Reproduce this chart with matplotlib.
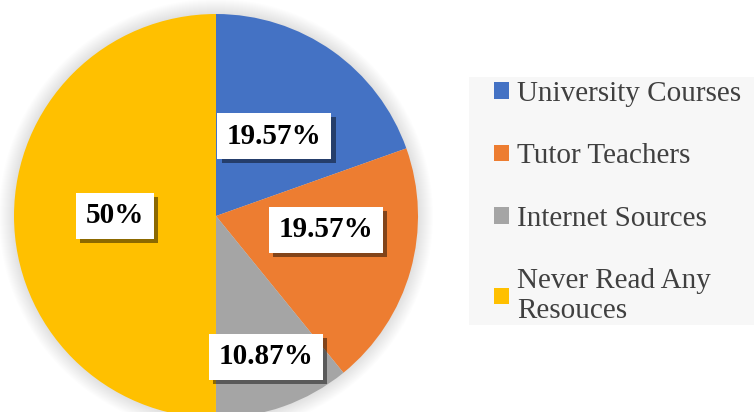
import numpy as np
import matplotlib
matplotlib.use("Agg")
import matplotlib.pyplot as plt
from matplotlib.patches import Circle, Rectangle, Patch
from matplotlib import patheffects

plt.rcParams['font.family'] = ['Liberation Serif', 'DejaVu Serif']

# data
categories = ["University Courses", "Tutor Teachers", "Internet Sources",
              "Never Read Any\nResouces"]
shares = [19.57, 19.57, 10.87, 50.0]
pct_labels = ["19.57%", "19.57%", "10.87%", "50%"]
colors = ["#4472C4", "#ED7D31", "#A5A5A5", "#FFC000"]

# label placement: fraction of radius and angle nudge (deg)
label_dist = [0.49, 0.55, 0.74, 0.50]
label_turn = [-1.0, 8.5, 0.0, 0.0]

W, H = 754, 412
fig = plt.figure(figsize=(W / 100, H / 100), dpi=100)
ax = fig.add_axes([0, 0, 1, 1])

cx, cy, r = 216, H - 216, 202

# soft glow around the pie
for k in range(1, 16):
    ax.add_patch(Circle((cx, cy), r + k, color="black", alpha=0.009,
                        lw=0, zorder=0))

wedges, _ = ax.pie(shares, colors=colors, startangle=90, counterclock=False,
                   center=(cx, cy), radius=r, frame=True,
                   wedgeprops=dict(linewidth=0, zorder=1))

for w, lab, d, turn in zip(wedges, pct_labels, label_dist, label_turn):
    ang = np.deg2rad((w.theta1 + w.theta2) / 2 + turn)
    x = cx + d * r * np.cos(ang)
    y = cy + d * r * np.sin(ang)
    t = ax.text(x, y, lab, ha="center", va="center", fontsize=21,
                fontweight="bold", color="black", zorder=5,
                bbox=dict(boxstyle="square,pad=0.33", fc="white", ec="none"))
    t.get_bbox_patch().set_path_effects([
        patheffects.withSimplePatchShadow(offset=(3, -3), shadow_rgbFace="black",
                                          alpha=0.45)])

ax.set_xlim(0, W)
ax.set_ylim(0, H)
ax.set_aspect("equal")
ax.axis("off")

# legend panel
fig.patches.append(Rectangle((469 / W, 1 - 325 / H), (W - 469) / W, 248 / H,
                             transform=fig.transFigure, fc="#F7F7F7", ec="none",
                             zorder=0))

handles = [Patch(facecolor=c, edgecolor="none") for c in colors]
fig.legend(handles, categories, loc="upper left",
           bbox_to_anchor=(494 / W, 1 - 81 / H), borderaxespad=0,
           frameon=False, fontsize=21, labelcolor="#404040",
           handlelength=0.5, handleheight=0.5, handletextpad=0.3,
           labelspacing=1.25, borderpad=0)

fig.savefig("out.png", dpi=100)
